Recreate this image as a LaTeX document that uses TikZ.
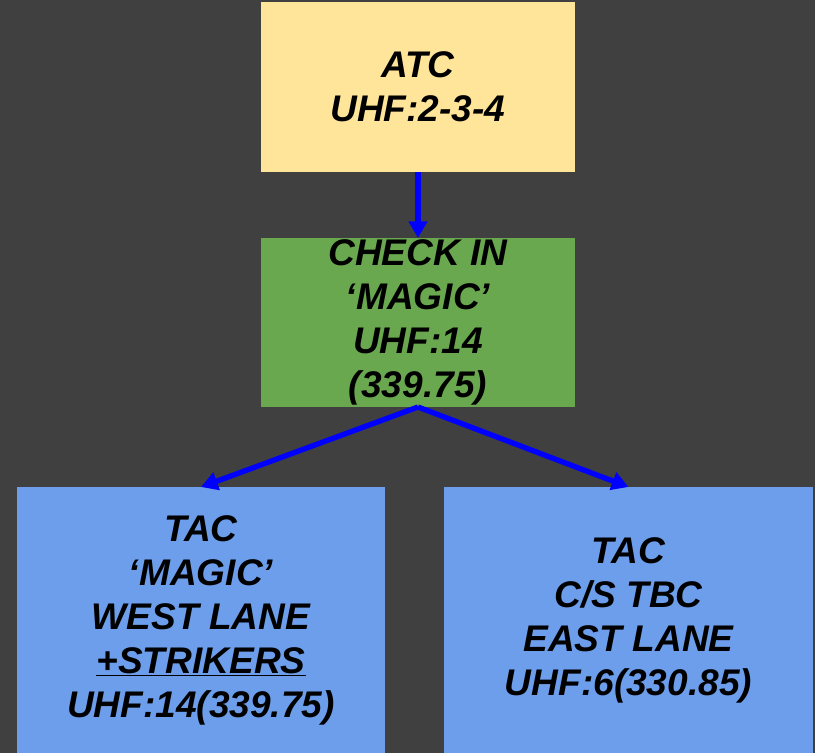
\documentclass[tikz,border=0pt]{standalone}
\usepackage{fontspec}
\setmainfont{Liberation Sans}
\usetikzlibrary{arrows.meta}
\definecolor{bg}{HTML}{404040}
\definecolor{atcy}{HTML}{FFE599}
\definecolor{chkg}{HTML}{6AA84F}
\definecolor{tacb}{HTML}{6D9EEB}
\definecolor{arr}{HTML}{0000FF}
\tikzset{
  box/.style={draw=none, inner sep=0pt, outer sep=0pt},
  txt/.style={align=center, inner sep=0pt, font=\fontsize{27.8pt}{33pt}\selectfont\bfseries\itshape, text=black},
  conn/.style={draw=arr, line width=4pt, -{Triangle[width=13.5pt,length=12.5pt]}}
}
\begin{document}
\begin{tikzpicture}[x=0.75pt,y=-0.75pt]
\fill[bg] (0,0) rectangle (815,753);
\useasboundingbox (0,0) rectangle (815,753);
\node[box, fill=atcy, minimum width=235.5pt, minimum height=127.5pt] (atc) at (418,87) {};
\node[txt] (atct) at (atc.center) {ATC\\UHF:2-3-4};
\node[box, fill=chkg, minimum width=235.5pt, minimum height=126.75pt] (chk) at (418,322.5) {};
\node[txt] (chkt) at (chk.center) {CHECK IN\\‘MAGIC’\\UHF:14\\(339.75)};
\node[box, fill=tacb, minimum width=276pt, minimum height=199.5pt] (west) at (201,620) {};
\node[txt] (westt) at (west.center) {TAC\\‘MAGIC’\\WEST LANE\\\underline{+STRIKERS}\\UHF:14(339.75)};
\node[box, fill=tacb, minimum width=276.75pt, minimum height=199.5pt] (east) at (628.5,620) {};
\node[txt] (eastt) at (east.center) {TAC\\C/S TBC\\EAST LANE\\UHF:6(330.85)};
\draw[conn] (atc.south) -- (chk.north);
\draw[conn] (chk.south) -- (west.north);
\draw[conn] (chk.south) -- (east.north);
\end{tikzpicture}
\end{document}
